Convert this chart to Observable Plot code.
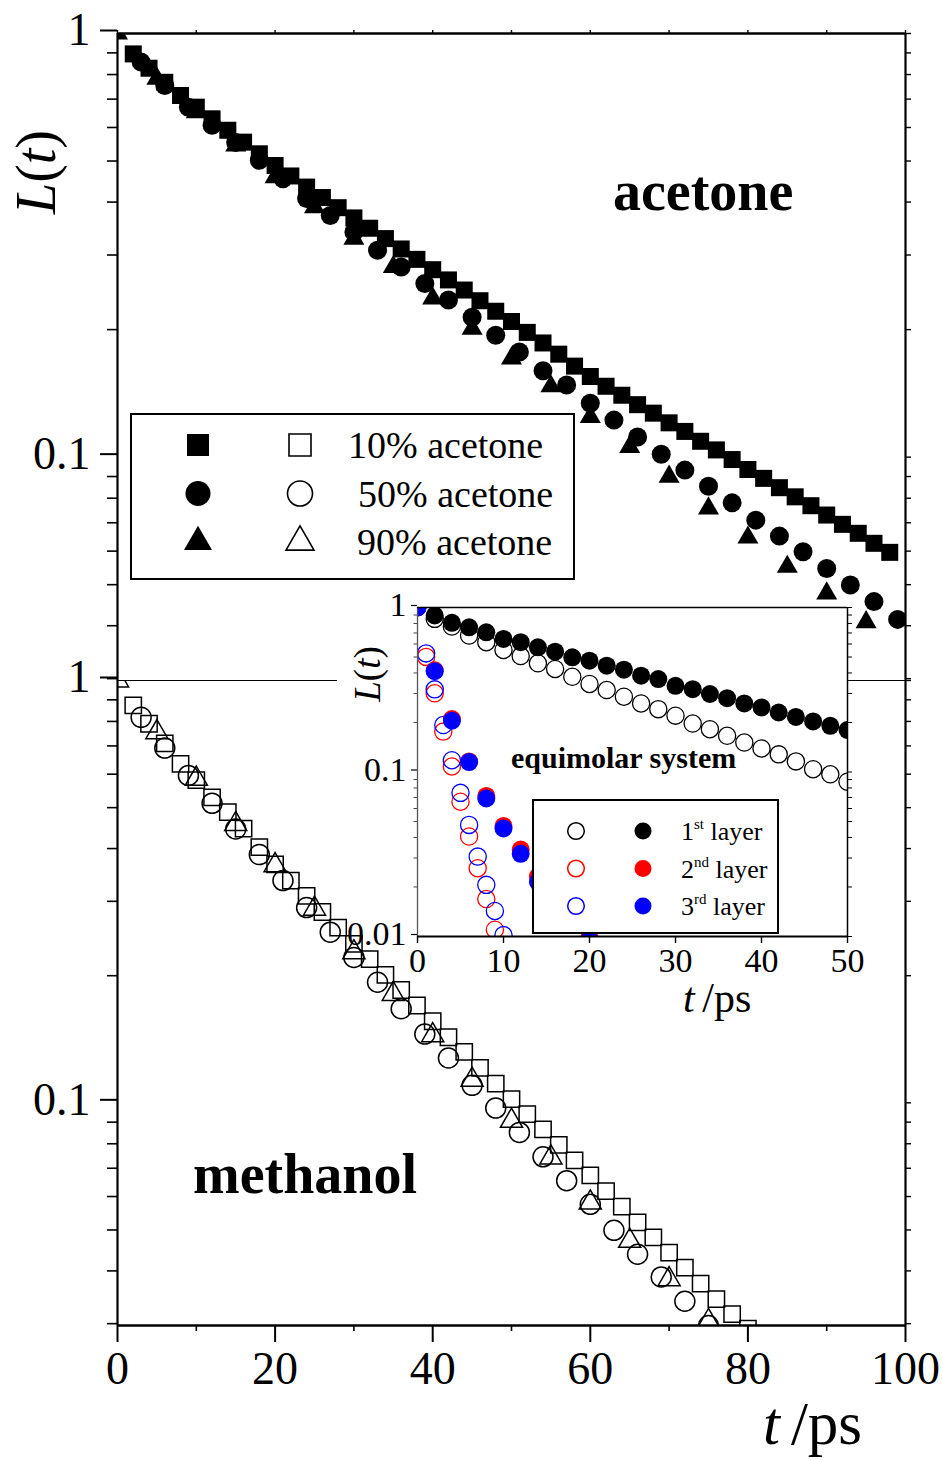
<!DOCTYPE html>
<html><head><meta charset="utf-8">
<script src="https://cdn.jsdelivr.net/npm/d3@7"></script>
<script src="https://cdn.jsdelivr.net/npm/@observablehq/plot@0.6"></script>
<style>
body{margin:0;background:#fff;}
#c{position:relative;width:943px;height:1460px;overflow:hidden;background:#fff;}
#c svg{position:absolute;overflow:visible;}
</style></head><body><div id="c"></div>
<script>
// ---------------- data ----------------
// top panel: acetone, filled symbols
const acetone10T = [2,4,6,8,10,12,14,16,18,20,22,24,26,28,30,32,34,36,38,40,42,44,46,48,50,52,54,56,58,60,62,64,66,68,70,72,74,76,78,80,82,84,86,88,90,92,94,96,98];
const acetone10L = [0.895,0.828,0.767,0.714,0.670,0.629,0.591,0.554,0.520,0.488,0.461,0.434,0.410,0.388,0.367,0.347,0.328,0.310,0.293,0.277,0.262,0.248,0.234,0.221,0.209,0.197,0.186,0.175,0.164,0.155,0.147,0.140,0.133,0.127,0.1205,0.115,0.109,0.104,0.0987,0.0935,0.0891,0.0847,0.0806,0.0768,0.0730,0.0694,0.0661,0.0626,0.0596];
const acetone50T = [3,6,9,12,15,18,21,24,27,30,33,36,39,42,45,48,51,54,57,60,63,66,69,72,75,78,81,84,87,90,93,96,99];
const acetone50L = [0.856,0.754,0.670,0.607,0.553,0.502,0.454,0.408,0.372,0.340,0.308,0.281,0.257,0.235,0.214,0.194,0.177,0.160,0.148,0.134,0.1223,0.1116,0.1016,0.0932,0.0854,0.078,0.071,0.0651,0.0598,0.0546,0.0499,0.0456,0.0414];
const acetone90T = [0,5,10,15,20,25,30,35,40,45,50,55,60,65,70,75,80,85,90,95];
const acetone90L = [1.0,0.782,0.652,0.544,0.458,0.389,0.328,0.281,0.237,0.201,0.171,0.147,0.1245,0.1057,0.0899,0.0757,0.0646,0.0551,0.0477,0.0408];
// bottom panel: methanol, open symbols
const methanol10T = [2,4,6,8,10,12,14,16,18,20,22,24,26,28,30,32,34,36,38,40,42,44,46,48,50,52,54,56,58,60,62,64,66,68,70,72,74,76,78,80];
const methanol10L = [0.873,0.79,0.71,0.635,0.581,0.529,0.488,0.446,0.403,0.367,0.336,0.309,0.283,0.260,0.238,0.219,0.201,0.185,0.170,0.156,0.143,0.132,0.121,0.111,0.102,0.094,0.0865,0.0795,0.0731,0.0673,0.0618,0.0568,0.0521,0.048,0.0442,0.0407,0.0373,0.0343,0.0316,0.0292];
const methanol50T = [3,6,9,12,15,18,21,24,27,30,33,36,39,42,45,48,51,54,57,60,63,66,69,72,75];
const methanol50L = [0.818,0.692,0.596,0.512,0.445,0.387,0.336,0.290,0.2535,0.221,0.193,0.167,0.1455,0.1277,0.110,0.0972,0.0851,0.0745,0.0654,0.0575,0.0499,0.0438,0.0387,0.0339,0.0297];
const methanol90T = [0,5,10,15,20,25,30,35,40,45,50,55,60,65,70,75];
const methanol90L = [1.0,0.754,0.585,0.457,0.365,0.288,0.227,0.181,0.1445,0.1133,0.0906,0.0742,0.058,0.0471,0.0382,0.0304];
// inset: equimolar system, layers
const layer1OpenT = [2,4,6,8,10,12,14,16,18,20,22,24,26,28,30,32,34,36,38,40,42,44,46,48,50];
const layer1OpenL = [0.853,0.766,0.675,0.615,0.552,0.507,0.458,0.423,0.379,0.343,0.315,0.287,0.261,0.241,0.220,0.197,0.182,0.166,0.151,0.139,0.128,0.116,0.104,0.0968,0.0873];
const layer1FilledT = [0,2,4,6,8,10,12,14,16,18,20,22,24,26,28,30,32,34,36,38,40,42,44,46,48,50];
const layer1FilledL = [1.0,0.894,0.807,0.758,0.707,0.644,0.615,0.573,0.539,0.498,0.475,0.443,0.419,0.385,0.367,0.334,0.319,0.298,0.281,0.261,0.247,0.230,0.216,0.203,0.191,0.180];
const layer2OpenT = [1,2,3,4,5,6,7,8,9,10];
const layer2OpenL = [0.501,0.301,0.176,0.108,0.066,0.0405,0.026,0.0169,0.011,0.0072];
const layer3OpenT = [1,2,3,4,5,6,7,8,9,10];
const layer3OpenL = [0.526,0.318,0.193,0.118,0.0747,0.0477,0.0306,0.0206,0.0143,0.0102];
const layer2FilledT = [0,2,4,6,8,10,12,14,16,18,20];
const layer2FilledL = [1.0,0.415,0.21,0.116,0.0715,0.047,0.0338,0.0232,0.0172,0.0128,0.0099];
const layer3FilledT = [0,2,4,6,8,10,12,14,16,18,20];
const layer3FilledL = [1.0,0.41,0.205,0.115,0.069,0.0454,0.0318,0.0215,0.0162,0.0121,0.0095];

// ticks & labels
const mainMajorY = [1, 0.1];
const mainMinorY = [0.03,0.04,0.05,0.06,0.07,0.08,0.09,0.2,0.3,0.4,0.5,0.6,0.7,0.8,0.9];
const mainMajorX = [0,20,40,60,80,100];
const mainMinorX = [10,30,50,70,90];
const insetMajorY = [1, 0.1, 0.01];
const insetMinorY = [0.02,0.03,0.04,0.05,0.06,0.07,0.08,0.09,0.2,0.3,0.4,0.5,0.6,0.7,0.8,0.9];
const insetMajorX = [0,10,20,30,40,50];
const legendMain = ["10% acetone", "50% acetone", "90% acetone"];
const legendInset = [["1","st"],["2","nd"],["3","rd"]];
const legendInsetColors = ["black", "#ff0000", "#0000ff"];

const yMin = 0.0297;
const serif = "'Liberation Serif','Times New Roman',serif";
const rows = (T, L) => T.map((t, i) => ({t, L: L[i]}));
const c = document.getElementById("c");
function place(el, left, top) {
  el.style.position = "absolute"; el.style.left = left + "px"; el.style.top = top + "px";
  c.appendChild(el);
}

function panelMarks(filled, d10, d50, d90) {
  const common = {x: "t", y: "L", clip: true};
  const st = filled ? {fill: "black", stroke: "none"} : {fill: "none", stroke: "black", strokeWidth: 1.5};
  return [
    Plot.dot(d10, {...common, ...st, symbol: "square", r: filled ? 9.6 : 9.2}),
    Plot.dot(d50, {...common, ...st, symbol: "circle", r: filled ? 9.5 : 10}),
    Plot.dot(d90, {...common, ...st, symbol: "triangle", r: filled ? 7.8 : 8.2})
  ];
}
const yAxes = [
  Plot.axisY({ticks: mainMajorY, tickSize: 17, tickPadding: 10, tickFormat: d => String(d), fontSize: 46, strokeWidth: 2, label: null, dy: -3}),
  Plot.axisY({ticks: mainMinorY, tickSize: 10, tickFormat: () => "", strokeWidth: 1.6, label: null}),
  Plot.axisY({anchor: "right", ticks: mainMajorY.concat(mainMinorY), tickSize: 5, tickFormat: () => "", strokeWidth: 1.4, label: null})
];

// ---------------- top panel ----------------
const topPlot = Plot.plot({
  width: 943, height: 680, marginTop: 33, marginBottom: 0, marginLeft: 117, marginRight: 38,
  x: {domain: [0, 100]},
  y: {type: "log", domain: [yMin, 1]},
  style: {fontFamily: serif, background: "transparent", color: "black"},
  marks: [
    ...yAxes,
    Plot.axisX({anchor: "top", ticks: [0,10,20,30,40,50,60,70,80,90,100], tickSize: 4, tickFormat: () => "", strokeWidth: 1.4, label: null}),
    ...panelMarks(true, rows(acetone10T, acetone10L), rows(acetone50T, acetone50L), rows(acetone90T, acetone90L)),
    Plot.ruleX([0, 100], {strokeWidth: 2.2}),
    Plot.ruleY([1], {strokeWidth: 2.4})
  ]
});
place(topPlot, 0, 0);

// ---------------- bottom panel ----------------
const botPlot = Plot.plot({
  width: 943, height: 780, marginTop: 0, marginBottom: 135, marginLeft: 117, marginRight: 38,
  x: {domain: [0, 100]},
  y: {type: "log", domain: [yMin, 1]},
  style: {fontFamily: serif, background: "transparent", color: "black"},
  marks: [
    ...yAxes,
    Plot.axisX({ticks: mainMajorX, tickSize: 17, tickPadding: 9, tickFormat: d => String(d), fontSize: 46, strokeWidth: 2, label: null}),
    Plot.axisX({ticks: mainMinorX, tickSize: 6, tickFormat: () => "", strokeWidth: 1.6, label: null}),
    ...panelMarks(false, rows(methanol10T, methanol10L), rows(methanol50T, methanol50L), rows(methanol90T, methanol90L)),
    Plot.ruleX([0, 100], {strokeWidth: 2.2}),
    Plot.ruleY([yMin], {strokeWidth: 2.4}),
    Plot.ruleY([1], {strokeWidth: 1})
  ]
});
place(botPlot, 0, 680);

// white strip hiding divider behind the inset's label area
const strip = document.createElement("div");
strip.style.cssText = "position:absolute;left:337px;top:674px;width:82px;height:12px;background:#fff;";
c.appendChild(strip);

// ---------------- inset ----------------
const iL = 330, iT = 585;
const insetPlot = Plot.plot({
  width: 530, height: 440, marginLeft: 87, marginRight: 13, marginTop: 22, marginBottom: 89,
  x: {domain: [0, 50]},
  y: {type: "log", domain: [0.01, 1]},
  style: {fontFamily: serif, background: "transparent", color: "black"},
  marks: [
    Plot.frame({fill: "white", stroke: "none"}),
    Plot.axisY({ticks: insetMajorY, tickSize: 6, tickPadding: 5, tickFormat: d => String(d), fontSize: 34, strokeWidth: 1.2, label: null, dy: -2}),
    Plot.axisY({ticks: insetMinorY, tickSize: 3.5, tickFormat: () => "", strokeWidth: 1, stroke: "#444", label: null}),
    Plot.axisY({anchor: "right", ticks: insetMajorY.concat(insetMinorY), tickSize: 4, tickFormat: () => "", strokeWidth: 1, label: null}),
    Plot.axisX({ticks: insetMajorX, tickSize: 7, tickPadding: 4, tickFormat: d => String(d), fontSize: 34, strokeWidth: 1.4, label: null}),
    Plot.dot(rows(layer1OpenT, layer1OpenL), {x: "t", y: "L", r: 8.6, fill: "white", stroke: "black", strokeWidth: 1.3, clip: true}),
    Plot.dot(rows(layer1FilledT, layer1FilledL), {x: "t", y: "L", r: 9, fill: "black", clip: true}),
    Plot.dot(rows(layer2OpenT, layer2OpenL), {x: "t", y: "L", r: 8.6, fill: "none", stroke: "#ff0000", strokeWidth: 1.3, clip: true}),
    Plot.dot(rows(layer3OpenT, layer3OpenL), {x: "t", y: "L", r: 8.6, fill: "none", stroke: "#0000ff", strokeWidth: 1.3, clip: true}),
    Plot.dot(rows(layer2FilledT, layer2FilledL), {x: "t", y: "L", r: 9, fill: "#ff0000", clip: true}),
    Plot.dot(rows(layer3FilledT, layer3FilledL), {x: "t", y: "L", r: 9, fill: "#0000ff", clip: true}),
    Plot.ruleX([0], {stroke: "#555", strokeWidth: 1.3}),
    Plot.ruleX([50], {strokeWidth: 1.5}),
    Plot.ruleY([1], {strokeWidth: 1.5}),
    Plot.ruleY([0.01], {strokeWidth: 2})
  ]
});
place(insetPlot, iL, iT);

// ---------------- annotations & legends ----------------
function txt(sel, x, y, size) {
  return sel.append("text").attr("x", x).attr("y", y).attr("text-anchor", "start")
    .attr("font-family", serif).attr("font-size", size).attr("fill", "black");
}
function axisLabelT(sel, x, y, size) {
  const t = txt(sel, x, y, size);
  t.append("tspan").attr("font-style", "italic").text("t");
  t.append("tspan").attr("dx", size * 0.18).text("/ps");
}
function axisLabelL(sel, x, y, size) {
  const t = sel.append("text").attr("transform", `translate(${x},${y}) rotate(-90)`).attr("text-anchor", "middle")
    .attr("font-family", serif).attr("font-size", size).attr("fill", "black");
  t.append("tspan").attr("font-style", "italic").text("L");
  t.append("tspan").text("(");
  t.append("tspan").attr("font-style", "italic").text("t");
  t.append("tspan").text(")");
}

const sTop = d3.select(topPlot);
axisLabelL(sTop, 55, 172, 56);
txt(sTop, 613, 210, 56).attr("font-weight", "bold").text("acetone");
// main legend
const lg = sTop.append("g");
lg.append("rect").attr("x", 131).attr("y", 414).attr("width", 443).attr("height", 165)
  .attr("fill", "white").attr("stroke", "black").attr("stroke-width", 2);
const legSyms = [[d3.symbolSquare, 484], [d3.symbolCircle, 491], [d3.symbolTriangle, 340]];
const legTextX = [348, 358, 357];
legendMain.forEach((lab, i) => {
  const cy = 445 + i * 48.5;
  const [sym, size] = legSyms[i];
  const path = d3.symbol(sym, size)();
  lg.append("path").attr("d", path).attr("transform", `translate(198,${cy})`).attr("fill", "black");
  lg.append("path").attr("d", path).attr("transform", `translate(300,${cy})`).attr("fill", "none")
    .attr("stroke", "black").attr("stroke-width", 1.6);
  txt(lg, legTextX[i], cy + 13, 38).text(lab);
});

const sBot = d3.select(botPlot);
txt(sBot, 193, 1193 - 680, 56).attr("font-weight", "bold").text("methanol");
axisLabelT(sBot, 763, 1444 - 680, 61);

const sIn = d3.select(insetPlot);
axisLabelL(sIn, 380 - iL, 674 - iT, 37);
axisLabelT(sIn, 683 - iL, 1012 - iT, 42);
txt(sIn, 511 - iL, 768 - iT, 30).attr("font-weight", "bold").text("equimolar system");
const ig = sIn.append("g");
ig.append("rect").attr("x", 533 - iL).attr("y", 800 - iT).attr("width", 245).attr("height", 133)
  .attr("fill", "white").attr("stroke", "black").attr("stroke-width", 2);
legendInset.forEach(([n, sup], i) => {
  const cy = 831 - iT + i * 37.5;
  const col = legendInsetColors[i];
  ig.append("circle").attr("cx", 576 - iL).attr("cy", cy).attr("r", 8.3).attr("fill", "none").attr("stroke", col).attr("stroke-width", 1.5);
  ig.append("circle").attr("cx", 643 - iL).attr("cy", cy).attr("r", 8.5).attr("fill", col);
  const t = txt(ig, 681 - iL, cy + 9, 26);
  t.append("tspan").text(n);
  t.append("tspan").attr("font-size", 15).attr("dy", -11).text(sup);
  t.append("tspan").attr("dy", 11).text(" layer");
});
</script>
</body></html>
